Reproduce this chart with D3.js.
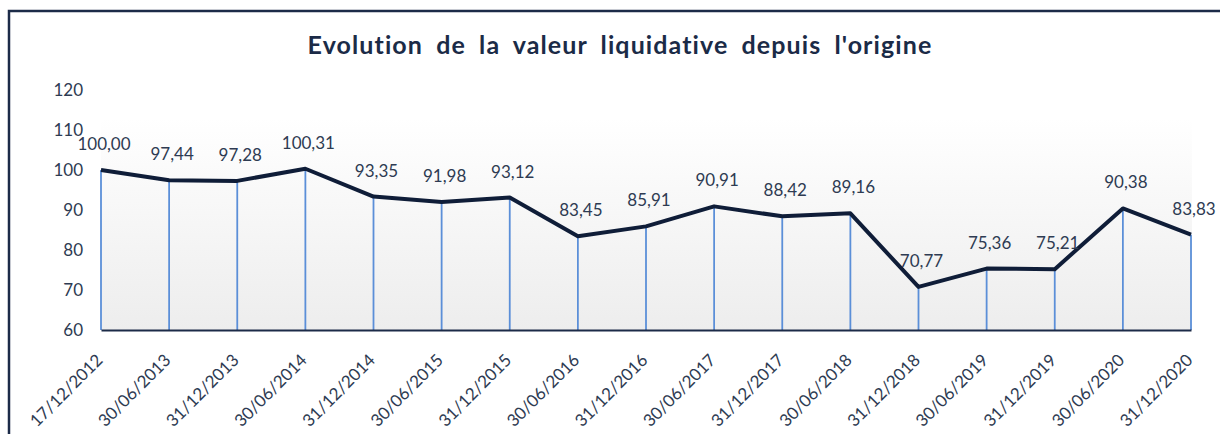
<!DOCTYPE html>
<html><head><meta charset="utf-8">
<script src="https://cdn.jsdelivr.net/npm/d3@7"></script>
<style>html,body{margin:0;padding:0;background:#fff;}svg{display:block;}</style>
</head><body>
<svg id="chart" width="1220" height="434"></svg>
<script>
const dates = ["17/12/2012","30/06/2013","31/12/2013","30/06/2014","31/12/2014","30/06/2015","31/12/2015","30/06/2016","31/12/2016","30/06/2017","31/12/2017","30/06/2018","31/12/2018","30/06/2019","31/12/2019","30/06/2020","31/12/2020"];
const values = [100.00,97.44,97.28,100.31,93.35,91.98,93.12,83.45,85.91,90.91,88.42,89.16,70.77,75.36,75.21,90.38,83.83];
const yTicks = [60,70,80,90,100,110,120];
const title = "Evolution de la valeur liquidative depuis l'origine";

const svg = d3.select("#chart");
const font = "Lato, 'Open Sans', sans-serif";
const x = d3.scalePoint().domain(dates).range([101, 1191]);
const y = d3.scaleLinear().domain([60, 120]).range([330, 90]);

const defs = svg.append("defs");
const grad = defs.append("linearGradient").attr("id","bg").attr("x1",0).attr("y1",0).attr("x2",0).attr("y2",1);
grad.append("stop").attr("offset","0%").attr("stop-color","#ffffff");
grad.append("stop").attr("offset","100%").attr("stop-color","#ededed");

// frame
svg.append("path").attr("d","M9,434V11H1220").attr("fill","none").attr("stroke","#1c2b48").attr("stroke-width",2.5);

// title
svg.append("text").attr("x",620).attr("y",54).attr("text-anchor","middle")
  .attr("font-family",font).attr("font-weight","bold").attr("font-size",25)
  .attr("fill","#1b2b47").attr("letter-spacing","1.1px").attr("word-spacing","6px").text(title);

// plot background
svg.append("rect").attr("x",101).attr("y",y(113)).attr("width",1192-101).attr("height",330-y(113)).attr("fill","url(#bg)");

// drop lines
svg.append("g").selectAll("line").data(dates).join("line")
  .attr("x1",d=>x(d)).attr("x2",d=>x(d))
  .attr("y1",(d,i)=>y(values[i])).attr("y2",y(60))
  .attr("stroke","#5b8fd8").attr("stroke-width",1.8);

// y axis
const ya = svg.append("g").attr("transform","translate(101,0)")
  .call(d3.axisLeft(y).tickValues(yTicks).tickSize(0).tickPadding(18).tickFormat(d3.format("d")));
ya.select(".domain").remove();
ya.selectAll("text").attr("font-family",font).attr("font-size",17).attr("fill","#2e3b52");

// x axis
const xa = svg.append("g").attr("transform","translate(0,330)")
  .call(d3.axisBottom(x).tickSize(0).tickPadding(0));
xa.select(".domain").attr("stroke","#1c2b48").attr("stroke-width",2.2);
xa.selectAll("text").attr("font-family",font).attr("font-size",17).attr("fill","#2e3b52")
  .attr("text-anchor","end").attr("dy","0.35em")
  .attr("transform","translate(-2,27) rotate(-45)");

// line
const line = d3.line().x((d,i)=>x(dates[i])).y(d=>y(d));
svg.append("path").datum(values).attr("d",line).attr("fill","none")
  .attr("stroke","#0f1d38").attr("stroke-width",4).attr("stroke-linejoin","round");

// labels
const fmt = v => v.toFixed(2).replace(".", ",");
svg.append("g").selectAll("text").data(values).join("text")
  .attr("x",(d,i)=>x(dates[i])+3).attr("y",d=>y(d)-20)
  .attr("text-anchor","middle").attr("font-family",font).attr("font-size",17)
  .attr("fill","#2e3b52").text(d=>fmt(d));
</script>
</body></html>
